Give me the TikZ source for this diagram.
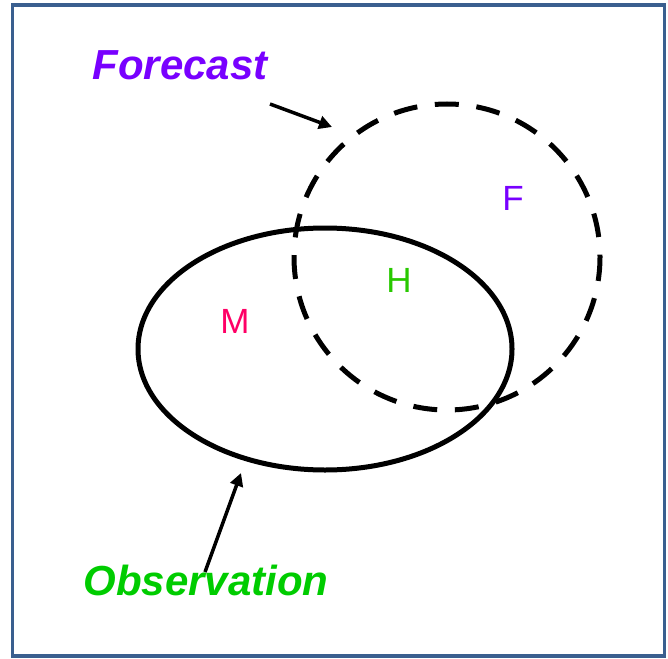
\documentclass[tikz,border=0pt]{standalone}
\usepackage{fontspec}
\setmainfont{Liberation Sans}
\usetikzlibrary{arrows.meta}
\definecolor{framecol}{RGB}{58,95,143}
\definecolor{fcpurple}{RGB}{120,0,255}
\definecolor{obsgreen}{RGB}{0,204,0}
\definecolor{mpink}{RGB}{255,0,102}
\definecolor{hgreen}{RGB}{40,200,0}
\tikzset{
  title/.style={font=\fontsize{42}{50}\selectfont\bfseries\itshape, inner sep=0pt},
  region/.style={font=\fontsize{35}{42}\selectfont, inner sep=0pt},
  pointer/.style={line width=3.5pt, -{Triangle[length=13pt,width=13pt]}},
}
\begin{document}
\begin{tikzpicture}[x=1pt,y=-1pt]
\useasboundingbox (0,0) rectangle (668,658);
\draw[framecol, line width=3.5pt] (12.5,5) rectangle (664.5,656);
\coordinate (obsc) at (325,349);
\coordinate (fcc) at (447,257);
\draw[line width=5pt] (obsc) ellipse [x radius=187, y radius=121];
\draw[line width=5pt, dash pattern=on 24pt off 17.7pt] (fcc) circle [radius=153];
\coordinate (fctip) at (332,127);
\coordinate (obstip) at (241,473);
\node[title, text=fcpurple] (fc) at (180,65) {Forecast};
\node[title, text=obsgreen] (ob) at (206,580) {Observation};
\node[region, text=mpink] (m) at (235,321) {M};
\node[region, text=hgreen] (h) at (399,280) {H};
\node[region, text=fcpurple] (f) at (513,198) {F};
\draw[pointer] (270,104) -- (fctip);
\draw[pointer] (205,572) -- (obstip);
\end{tikzpicture}
\end{document}
